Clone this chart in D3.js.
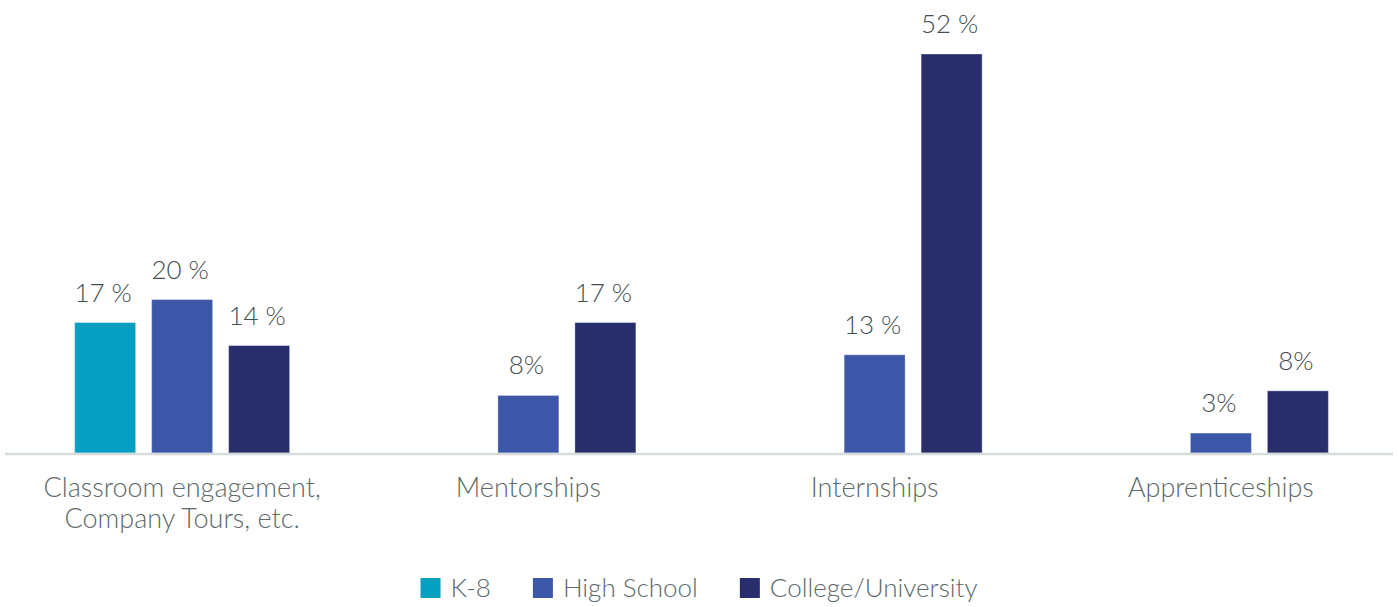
<!DOCTYPE html>
<html>
<head>
<meta charset="utf-8">
<script src="https://cdn.jsdelivr.net/npm/d3@7/dist/d3.min.js"></script>
<style>
  html, body { margin: 0; padding: 0; background: #ffffff; }
  svg { display: block; }
  svg text { font-family: Lato, "Open Sans", sans-serif; font-weight: 300; }
</style>
</head>
<body>
<svg id="chart" width="1398" height="607"></svg>
<script>
// ---- data ----
const categories = ["Classroom engagement,\nCompany Tours, etc.", "Mentorships", "Internships", "Apprenticeships"];
const seriesNames = ["K-8", "High School", "College/University"];
const k8Values = [17, null, null, null];
const highSchoolValues = [20, 7.5, 12.8, 2.6];
const collegeValues = [14, 17, 52, 8.1];
const seriesColors = ["#069fc1", "#3c57a8", "#272e6b"];

const seriesValues = [k8Values, highSchoolValues, collegeValues];

const W = 1398, H = 607;
const svg = d3.select("#chart");

const x0 = d3.scaleBand().domain(categories).range([9, 1394]).padding(0);
const innerSpan = 215;
const x1 = d3.scaleBand().domain(seriesNames).range([0, innerSpan]).paddingInner(16 / 77).paddingOuter(0);
const y = d3.scaleLinear().domain([0, 52]).range([453, 54]);

const fmt = v => { const r = Math.round(v); return r >= 10 ? r + " %" : r + "%"; };

const bars = [];
categories.forEach((c, ci) => {
  seriesNames.forEach((s, si) => {
    const v = seriesValues[si][ci];
    if (v != null) bars.push({ cat: c, series: s, value: v, color: seriesColors[si] });
  });
});

const groupLeft = c => x0(c) + x0.bandwidth() / 2 - innerSpan / 2;

svg.append("g").selectAll("rect").data(bars).join("rect")
  .attr("x", d => groupLeft(d.cat) + x1(d.series))
  .attr("y", d => y(d.value))
  .attr("width", x1.bandwidth())
  .attr("height", d => y(0) - y(d.value))
  .attr("fill", d => d.color)
  .attr("stroke", "rgba(255,255,255,0.35)")
  .attr("stroke-width", 1);

svg.append("g").selectAll("text").data(bars).join("text")
  .attr("x", d => groupLeft(d.cat) + x1(d.series) + x1.bandwidth() / 2 - 2)
  .attr("y", d => y(d.value) - 21)
  .attr("text-anchor", "middle")
  .attr("font-size", 26)
  .attr("fill", "#444d4f")
  .text(d => fmt(d.value));

const axis = svg.append("g")
  .attr("transform", `translate(0,${y(0)})`)
  .call(d3.axisBottom(x0).tickSize(0).tickFormat(""));
axis.attr("font-family", null).attr("font-size", null);
axis.select(".domain").attr("stroke", "#d6dbdc").attr("stroke-width", 2.5).attr("d", "M5,1H1393");
axis.selectAll(".tick").each(function(c) {
  const t = d3.select(this).append("text")
    .attr("text-anchor", "middle")
    .attr("font-size", 27)
    .attr("fill", "#5d696b")
    .attr("y", 44);
  c.split("\n").forEach((line, i) => {
    t.append("tspan").attr("x", 0).attr("dy", i === 0 ? 0 : 31).text(line);
  });
});

const legend = svg.append("g");
let lx = 0;
const gap = 42;
seriesNames.forEach((s, i) => {
  const g = legend.append("g");
  g.append("rect").attr("x", 0).attr("y", -10).attr("width", 20).attr("height", 20).attr("fill", seriesColors[i]);
  const t = g.append("text").attr("x", 30).attr("y", 9).attr("font-size", 26)
    .attr("fill", "#5d696b").text(s);
  const w = 30 + t.node().getComputedTextLength();
  g.attr("transform", `translate(${lx},0)`);
  lx += w + gap;
});
const legendWidth = lx - gap;
legend.attr("transform", `translate(${W / 2 - legendWidth / 2},588)`);
</script>
</body>
</html>
